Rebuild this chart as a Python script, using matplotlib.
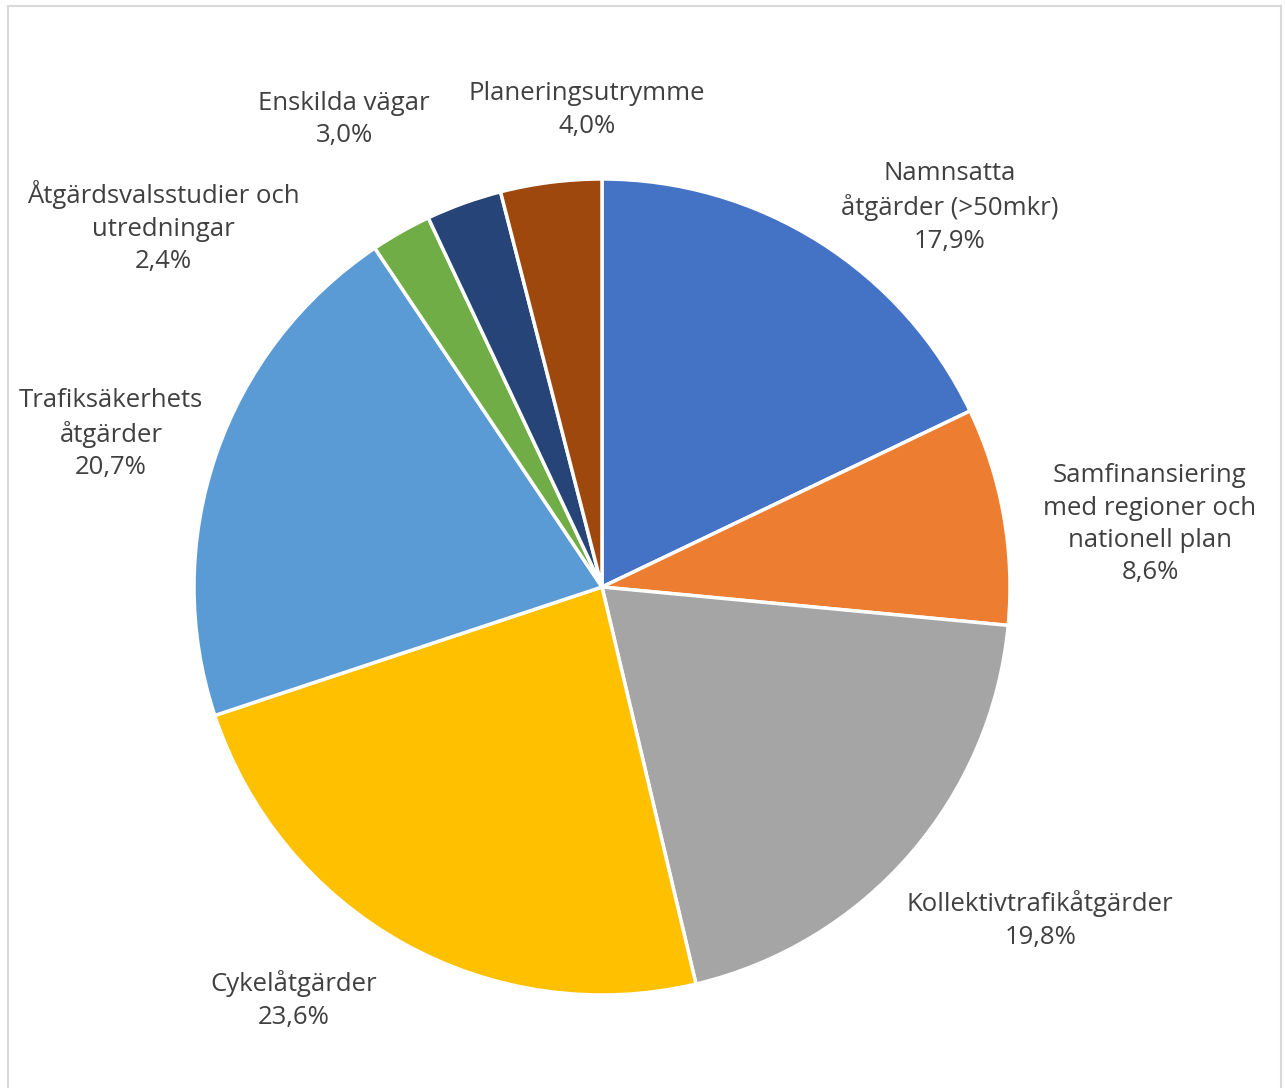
import matplotlib
matplotlib.use("Agg")
import matplotlib.pyplot as plt
from matplotlib.patches import Rectangle

categories = ["Namnsatta\nåtgärder (>50mkr)", "Samfinansiering\nmed regioner och\nnationell plan",
              "Kollektivtrafikåtgärder", "Cykelåtgärder", "Trafiksäkerhets\nåtgärder",
              "Åtgärdsvalsstudier och\nutredningar", "Enskilda vägar", "Planeringsutrymme"]
values = [17.9, 8.6, 19.8, 23.6, 20.7, 2.4, 3.0, 4.0]
value_labels = ["17,9%", "8,6%", "19,8%", "23,6%", "20,7%", "2,4%", "3,0%", "4,0%"]
colors = ["#4472C4", "#ED7D31", "#A5A5A5", "#FFC000", "#5B9BD5", "#70AD47", "#264478", "#9E480E"]
# label positions in pie-radius units
label_pos = [(0.853, 0.93), (1.343, 0.154), (1.074, -0.816), (-0.755, -1.012),
             (-1.203, 0.375), (-1.074, 0.882), (-0.632, 1.145), (-0.037, 1.169)]

W, H = 1285, 1088
cx, cy, R = 602, 587, 408
fig = plt.figure(figsize=(W / 100, H / 100), dpi=100)
ax = fig.add_axes([0, 0, 1, 1])
ax.pie(values, colors=colors, startangle=90, counterclock=False, radius=1,
       wedgeprops=dict(edgecolor="white", linewidth=2.5))
ax.set_xlim(-cx / R, (W - cx) / R)
ax.set_ylim(-(H - cy) / R, cy / R)
ax.set_aspect("auto")
ax.axis("off")

for cat, vl, (x, y) in zip(categories, value_labels, label_pos):
    ax.text(x, y, cat + "\n" + vl, ha="center", va="center", fontsize=18.5,
            color="#404040", family=["Open Sans", "DejaVu Sans"], linespacing=1.38)

fig.patches.append(Rectangle((8 / W, -0.01), (1281 - 8) / W, (H - 6) / H + 0.01,
                             transform=fig.transFigure, fill=False,
                             edgecolor="#D9D9D9", linewidth=1.5))
fig.savefig("out.png", dpi=100, facecolor="white")
